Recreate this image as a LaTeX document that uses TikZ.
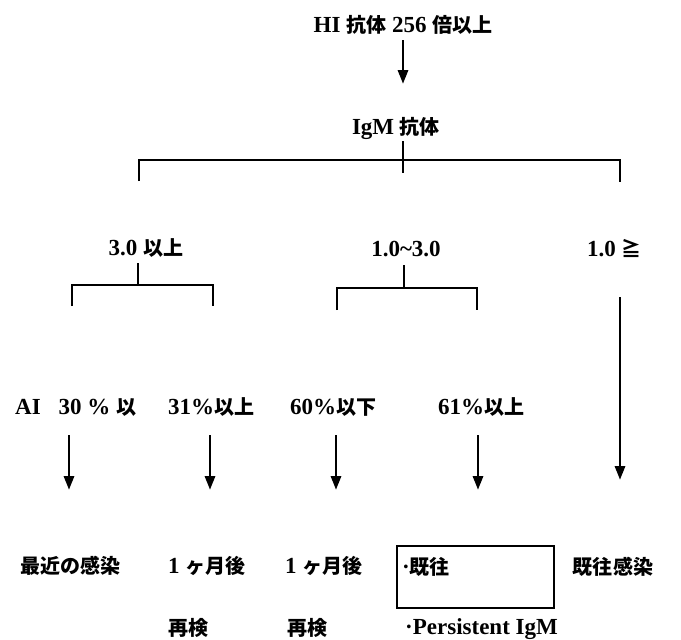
\documentclass[tikz,border=0pt]{standalone}
\usepackage{fontspec}
\setmainfont{Liberation Serif}
\newfontfamily\cjk[Scale=0.87]{Noto Sans CJK JP}
\usetikzlibrary{arrows.meta}
\newcommand\J[1]{{\cjk #1}}
\begin{document}
\begin{tikzpicture}[x=1pt,y=-1pt,
  font=\fontsize{23}{26}\selectfont\bfseries,
  lbl/.style={inner sep=0pt},
  ln/.style={line width=2.9pt},
  arr/.style={line width=2.9pt,-{Triangle[length=14pt,width=10pt]}},
  boxed/.style={draw,line width=1.8pt}]
\useasboundingbox (0,0) rectangle (681,640);
% top
\node[lbl] (hi) at (403,25) {HI \J{抗体} 256 \J{倍以上}};
\node[lbl] (igm) at (396,128) {IgM \J{抗体}};
\coordinate (a1) at (403,40);
\coordinate (a2) at (403,84);
\draw[arr] (a1) -- (a2);
% top bracket
\coordinate (t0) at (403,141);
\coordinate (t1) at (403,173);
\coordinate (tl) at (139,160);
\coordinate (tr) at (620,160);
\coordinate (tlb) at (139,181);
\coordinate (trb) at (620,182);
\draw[ln] (t0) -- (t1);
\draw[ln] (tlb) -- (tl) -- (tr) -- (trb);
% second level
\node[lbl] (g3) at (146,248) {3.0 \J{以上}};
\node[lbl] (g13) at (406,249) {1.0\textasciitilde3.0};
\node[lbl,anchor=west] (g1) at (587,248) {1.0 \J{≧}};
% left bracket
\coordinate (l0) at (138,263);
\coordinate (l1) at (138,285);
\coordinate (ll) at (72,285);
\coordinate (lr) at (213,285);
\coordinate (llb) at (72,306);
\coordinate (lrb) at (213,306);
\draw[ln] (l0) -- (l1);
\draw[ln] (llb) -- (ll) -- (lr) -- (lrb);
% middle bracket
\coordinate (m0) at (404,265);
\coordinate (m1) at (404,288);
\coordinate (ml) at (337,288);
\coordinate (mr) at (477,288);
\coordinate (mlb) at (337,310);
\coordinate (mrb) at (477,310);
\draw[ln] (m0) -- (m1);
\draw[ln] (mlb) -- (ml) -- (mr) -- (mrb);
% long arrow
\coordinate (r0) at (620,297);
\coordinate (r1) at (620,480);
\draw[arr] (r0) -- (r1);
% third level
\node[lbl,anchor=west] (ai) at (15,407) {AI\hspace{18pt}30 \% \J{以}};
\node[lbl,anchor=west] (p31) at (168,407) {31\%\J{以上}};
\node[lbl,anchor=west] (p60) at (290,407) {60\%\J{以下}};
\node[lbl,anchor=west] (p61) at (438,407) {61\%\J{以上}};
% short arrows
\foreach \n/\x in {s1/69,s2/210,s3/336,s4/478}{
  \coordinate (\n a) at (\x,435);
  \coordinate (\n b) at (\x,490);
  \draw[arr] (\n a) -- (\n b);
}
% bottom
\node[lbl,anchor=east] (r1t) at (121,566) {\J{最近の感染}};
\node[lbl,anchor=west] (r2t) at (168,566) {1\hspace{6pt}\J{ヶ月後}};
\node[lbl,anchor=west] (r2b) at (168,628) {\J{再検}};
\node[lbl,anchor=west] (r3t) at (285,566) {1\hspace{6pt}\J{ヶ月後}};
\node[lbl,anchor=west] (r3b) at (287,628) {\J{再検}};
\node[boxed,minimum width=157pt,minimum height=62pt,anchor=north west] (bx) at (396,545) {};
\node[lbl,anchor=west] (r4t) at (402,567) {·\J{既往}};
\node[lbl,anchor=west] (r4b) at (405,629) {·Persistent IgM};
\node[lbl] (r5t) at (613,567) {\J{既往感染}};
\end{tikzpicture}
\end{document}
